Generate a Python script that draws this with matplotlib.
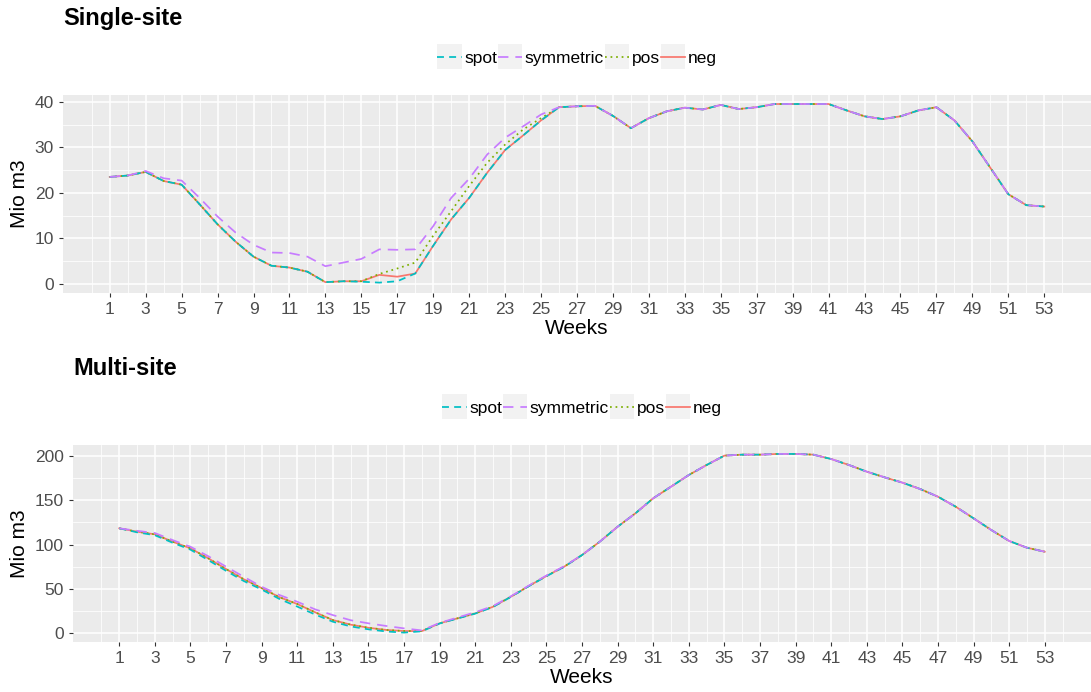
import matplotlib
matplotlib.use("Agg")
import matplotlib.pyplot as plt
from matplotlib.legend_handler import HandlerLine2D
from matplotlib.patches import Rectangle
import numpy as np

# ==========================================
# DATA
# ==========================================

weeks = list(range(1, 54))

single_spot = [23.5, 23.8, 24.6, 22.6, 21.8, 17.5, 13.1, 9.3, 6.0, 4.0,
               3.6, 2.7, 0.4, 0.6, 0.5, 0.3, 0.6, 2.3, 8.4, 14.2,
               18.9, 24.4, 29.4, 32.6, 35.9, 38.8, 39.0, 39.1, 36.9, 34.2,
               36.4, 37.9, 38.7, 38.3, 39.3, 38.4, 38.8, 39.5, 39.5, 39.5,
               39.5, 38.1, 36.8, 36.2, 36.8, 38.1, 38.8, 35.9, 31.3, 25.5,
               19.7, 17.3, 17.0]
single_symmetric = [23.5, 23.8, 24.8, 23.2, 22.7, 18.9, 14.8, 11.3, 8.6, 6.9,
                    6.8, 6.0, 3.9, 4.7, 5.5, 7.6, 7.5, 7.6, 12.7, 18.9,
                    23.1, 28.4, 32.1, 34.6, 37.2, 38.8, 39.0, 39.1, 36.9, 34.2,
                    36.4, 37.9, 38.7, 38.3, 39.3, 38.4, 38.8, 39.5, 39.5, 39.5,
                    39.5, 38.1, 36.8, 36.2, 36.8, 38.1, 38.8, 35.9, 31.3, 25.5,
                    19.7, 17.3, 17.0]
single_pos = [23.5, 23.8, 24.6, 22.6, 21.8, 17.5, 13.1, 9.3, 6.0, 4.0,
              3.6, 2.7, 0.4, 0.6, 0.6, 2.2, 3.4, 4.7, 10.6, 16.0,
              21.5, 26.6, 30.6, 33.9, 36.4, 38.8, 39.0, 39.1, 36.9, 34.2,
              36.4, 37.9, 38.7, 38.3, 39.3, 38.4, 38.8, 39.5, 39.5, 39.5,
              39.5, 38.1, 36.8, 36.2, 36.8, 38.1, 38.8, 35.9, 31.3, 25.5,
              19.7, 17.3, 17.0]
single_neg = [23.5, 23.8, 24.6, 22.6, 21.8, 17.5, 13.1, 9.3, 6.0, 4.0,
              3.6, 2.7, 0.4, 0.6, 0.6, 2.0, 1.6, 2.3, 8.4, 14.2,
              18.9, 24.4, 29.4, 32.6, 35.9, 38.8, 39.0, 39.1, 36.9, 34.2,
              36.4, 37.9, 38.7, 38.3, 39.3, 38.4, 38.8, 39.5, 39.5, 39.5,
              39.5, 38.1, 36.8, 36.2, 36.8, 38.1, 38.8, 35.9, 31.3, 25.5,
              19.7, 17.3, 17.0]

multi_spot = [118.3, 113.8, 110.5, 102.0, 94.2, 82.4, 70.3, 58.7, 49.2, 38.5,
              29.9, 21.0, 12.8, 7.5, 4.2, 1.8, 0.5, 2.0, 10.8, 16.4,
              22.0, 29.5, 40.8, 52.8, 64.2, 74.8, 88.1, 103.2, 120.1, 135.2,
              152.2, 165.3, 178.5, 189.8, 200.4, 201.5, 201.5, 202.3, 202.3, 201.5,
              196.6, 189.8, 182.3, 175.9, 169.9, 162.7, 154.0, 142.7, 129.6, 116.4,
              104.0, 96.4, 91.9]
multi_symmetric = [118.3, 115.5, 113.0, 105.0, 97.5, 86.8, 75.0, 63.5, 52.3, 43.0,
                   35.4, 26.8, 20.3, 14.5, 11.0, 8.0, 5.3, 3.0, 11.5, 17.5,
                   23.5, 30.5, 41.5, 53.5, 65.0, 75.5, 88.1, 103.2, 120.1, 135.2,
                   152.2, 165.3, 178.5, 189.8, 200.4, 201.5, 201.5, 202.3, 202.3, 201.5,
                   196.6, 189.8, 182.3, 175.9, 169.9, 162.7, 154.0, 142.7, 129.6, 116.4,
                   104.0, 96.4, 91.9]
multi_pos = [118.3, 114.5, 111.5, 103.2, 95.7, 84.4, 72.3, 60.7, 50.8, 40.5,
             32.8, 23.5, 14.7, 9.5, 6.0, 3.5, 2.3, 2.2, 11.0, 16.6,
             22.2, 29.7, 41.0, 53.0, 64.4, 75.0, 88.1, 103.2, 120.1, 135.2,
             152.2, 165.3, 178.5, 189.8, 200.4, 201.5, 201.5, 202.3, 202.3, 201.5,
             196.6, 189.8, 182.3, 175.9, 169.9, 162.7, 154.0, 142.7, 129.6, 116.4,
             104.0, 96.4, 91.9]
multi_neg = [118.3, 114.5, 111.5, 103.2, 95.7, 84.4, 72.3, 60.7, 50.8, 40.5,
             32.8, 23.5, 14.7, 9.5, 6.0, 3.5, 2.3, 2.2, 11.0, 16.6,
             22.2, 29.7, 41.0, 53.0, 64.4, 75.0, 88.1, 103.2, 120.1, 135.2,
             152.2, 165.3, 178.5, 189.8, 200.4, 201.5, 201.5, 202.3, 202.3, 201.5,
             196.6, 189.8, 182.3, 175.9, 169.9, 162.7, 154.0, 142.7, 129.6, 116.4,
             104.0, 96.4, 91.9]

legend_order = ["spot", "symmetric", "pos", "neg"]

# ==========================================
# STYLE
# ==========================================

plt.rcParams["font.family"] = ["Liberation Sans", "DejaVu Sans"]

colors = {"neg": "#F8766D", "pos": "#7CAE00",
          "spot": "#00BFC4", "symmetric": "#C77CFF"}
dashes = {"neg": None, "pos": (1, 2.2), "spot": (4, 3), "symmetric": (6, 4)}
draw_order = ["neg", "pos", "spot", "symmetric"]

W, H = 1091, 692


class KeyHandler(HandlerLine2D):
    def create_artists(self, legend, orig_handle, xdescent, ydescent,
                       width, height, fontsize, trans):
        arts = super().create_artists(legend, orig_handle, xdescent, ydescent,
                                      width, height, fontsize, trans)
        extra = width - height
        bg = Rectangle((-xdescent, -ydescent - extra / 2), width, width,
                       facecolor="#F2F2F2", edgecolor="none", transform=trans)
        return [bg] + list(arts)


def draw_panel(rect, series, yticks, ylim, title, title_x, title_y, leg_y):
    ax = fig.add_axes(rect)
    ax.set_facecolor("#EBEBEB")
    handles = {}
    for name in draw_order:
        line, = ax.plot(weeks, series[name], color=colors[name], lw=1.25,
                        label=name)
        if dashes[name] is not None:
            line.set_dashes(dashes[name])
        handles[name] = line

    ax.set_xticks(np.arange(1, 54, 2))
    ax.set_xticks(np.arange(0, 56, 2), minor=True)
    ax.set_yticks(yticks)
    step = yticks[1] - yticks[0]
    ax.set_yticks(np.arange(yticks[0] - step / 2, yticks[-1] + step, step),
                  minor=True)
    # limits after the ticks, so the minor ticks do not widen them
    ax.set_xlim(1 - 2.6, 53 + 2.6)
    ax.set_ylim(*ylim)
    ax.grid(which="major", color="white", lw=1.1)
    ax.grid(which="minor", color="white", lw=0.55)
    ax.set_axisbelow(True)
    for s in ax.spines.values():
        s.set_visible(False)
    ax.tick_params(which="major", length=3, width=0.8, color="#333333",
                   labelcolor="#4D4D4D", labelsize=12.5, pad=3.5)
    ax.tick_params(which="minor", length=0)
    ax.set_xlabel("Weeks", fontsize=15, labelpad=1.5)
    ax.set_ylabel("Mio m3", fontsize=15, labelpad=4)

    fig.text(title_x / W, 1 - title_y / H, title, fontsize=17,
             fontweight="bold", va="baseline", ha="left")

    cx = (rect[0] + rect[0] + rect[2]) / 2
    ax.legend([handles[n] for n in legend_order], legend_order,
              loc="center", bbox_to_anchor=(cx, 1 - leg_y / H),
              bbox_transform=fig.transFigure, ncol=4, frameon=False,
              fontsize=12.5, handlelength=1.4, handletextpad=0.15,
              columnspacing=0.05, borderpad=0,
              handler_map={matplotlib.lines.Line2D: KeyHandler()})
    return ax


fig = plt.figure(figsize=(W / 100, H / 100), dpi=100)

single = {"spot": single_spot, "symmetric": single_symmetric,
          "pos": single_pos, "neg": single_neg}
multi = {"spot": multi_spot, "symmetric": multi_symmetric,
         "pos": multi_pos, "neg": multi_neg}

draw_panel([63 / W, 1 - 293 / H, 1 - 63 / W, 198 / H], single,
           [0, 10, 20, 30, 40], (-1.98, 41.48), "Single-site", 63, 25, 58)
draw_panel([73 / W, 1 - 642 / H, 1 - 73 / W, 197 / H], multi,
           [0, 50, 100, 150, 200], (-10.1, 212.4), "Multi-site", 73, 375, 408)

plt.savefig("out.png", dpi=100)
